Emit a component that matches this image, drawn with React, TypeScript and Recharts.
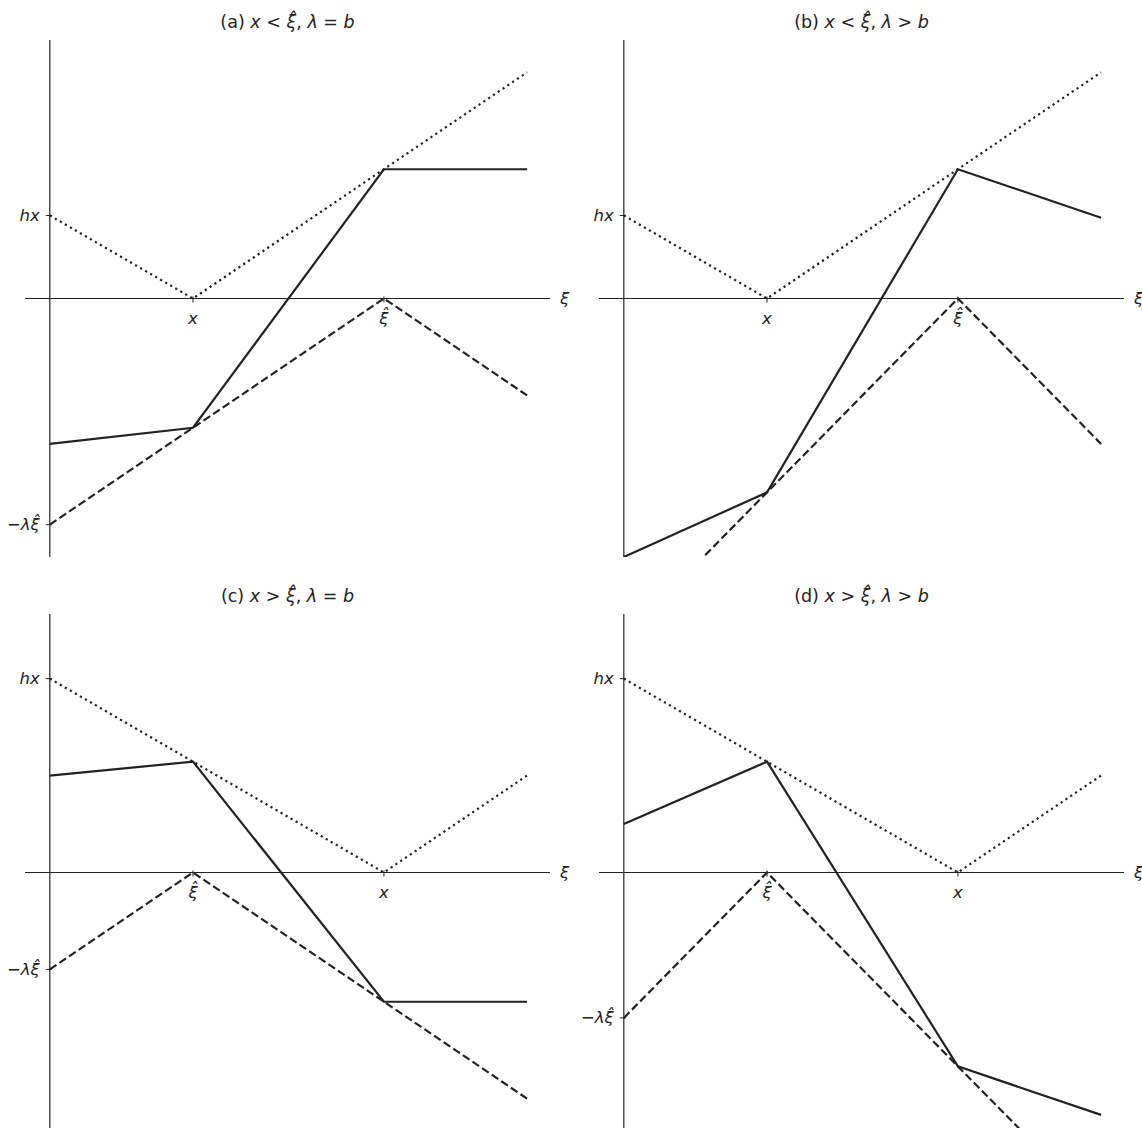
import React from "react";
import { LineChart, Line, XAxis, YAxis, ReferenceLine, ReferenceDot } from "recharts";

const XI = [0, 3, 7, 10];

// (a) x < xi_hat, lambda = b
const dottedA = [2.57, 0, 4, 7];
const dashedA = [-7, -4, 0, -3];
const solidA = [-4.5, -4, 4, 4];

// (b) x < xi_hat, lambda > b
const dottedB = [2.57, 0, 4, 7];
const dashedB = [-10.5, -6, 0, -4.5];
const solidB = [-8, -6, 4, 2.5];

// (c) x > xi_hat, lambda = b
const dottedC = [6, 3.43, 0, 3];
const dashedC = [-3, 0, -4, -7];
const solidC = [3, 3.43, -4, -4];

// (d) x > xi_hat, lambda > b
const dottedD = [6, 3.43, 0, 3];
const dashedD = [-4.5, 0, -6, -10.5];
const solidD = [1.5, 3.43, -6, -7.5];

const XI_HAT = "ξ\u0302";

const FONT = "'DejaVu Sans', sans-serif";
const INK = "#222";
const LABEL_SIZE = 16.5;

const PLOT_W = 525;
const PLOT_H = 517;
const MARGIN = { top: 40, right: 40, bottom: 30, left: 25 };

interface Tick {
  value: number;
  label: React.ReactNode;
}

interface PanelProps {
  left: number;
  top: number;
  tag: string;
  rel: string;
  lam: string;
  dotted: number[];
  dashed: number[];
  solid: number[];
  xTicks: Tick[];
  yTicks: Tick[];
}

const I = ({ children }: { children: React.ReactNode }) => (
  <tspan fontStyle="italic">{children}</tspan>
);

function Panel({ left, top, tag, rel, lam, dotted, dashed, solid, xTicks, yTicks }: PanelProps) {
  const data = XI.map((xi, i) => ({
    xi,
    dotted: dotted[i],
    dashed: dashed[i],
    solid: solid[i],
  }));

  return (
    <div style={{ position: "absolute", left, top }}>
      <div
        style={{
          position: "absolute",
          left: MARGIN.left,
          width: PLOT_W,
          top: 11,
          textAlign: "center",
          fontFamily: FONT,
          fontSize: 17.5,
          lineHeight: "22px",
          color: INK,
          whiteSpace: "pre",
        }}
      >
        {`(${tag}) `}
        <i>x</i>
        {` ${rel} `}
        <i>{XI_HAT}</i>
        {", "}
        <i>λ</i>
        {` ${lam} `}
        <i>b</i>
      </div>
      <LineChart
        width={PLOT_W + MARGIN.left + MARGIN.right}
        height={PLOT_H + MARGIN.top + MARGIN.bottom}
        data={data}
        margin={MARGIN}
      >
        <XAxis type="number" dataKey="xi" domain={[-0.52, 10.48]} hide allowDataOverflow />
        <YAxis type="number" domain={[-8, 8]} hide allowDataOverflow />
        <ReferenceLine y={0} stroke={INK} strokeWidth={1.2} />
        <ReferenceLine x={0} stroke={INK} strokeWidth={1.2} />
        {xTicks.map((t) => (
          <ReferenceDot
            key={"x" + t.value}
            x={t.value}
            y={0}
            ifOverflow="visible"
            shape={(p: any) => (
              <g>
                <line x1={p.cx} y1={p.cy - 2} x2={p.cx} y2={p.cy + 4} stroke={INK} strokeWidth={1} />
                <text
                  x={p.cx}
                  y={p.cy + 25}
                  textAnchor="middle"
                  fontFamily={FONT}
                  fontSize={LABEL_SIZE}
                  fontStyle="italic"
                  fill={INK}
                >
                  {t.label}
                </text>
              </g>
            )}
          />
        ))}
        {yTicks.map((t) => (
          <ReferenceDot
            key={"y" + t.value}
            x={0}
            y={t.value}
            ifOverflow="visible"
            shape={(p: any) => (
              <g>
                <line x1={p.cx - 4} y1={p.cy} x2={p.cx + 2} y2={p.cy} stroke={INK} strokeWidth={1} />
                <text
                  x={p.cx - 10}
                  y={p.cy + 5.5}
                  textAnchor="end"
                  fontFamily={FONT}
                  fontSize={LABEL_SIZE}
                  fill={INK}
                >
                  {t.label}
                </text>
              </g>
            )}
          />
        ))}
        <ReferenceDot
          x={10.48}
          y={0}
          ifOverflow="visible"
          shape={(p: any) => (
            <text
              x={p.cx + 10}
              y={p.cy + 5.5}
              fontFamily={FONT}
              fontSize={LABEL_SIZE}
              fontStyle="italic"
              fill={INK}
            >
              ξ
            </text>
          )}
        />
        <Line
          type="linear"
          dataKey="dotted"
          stroke={INK}
          strokeWidth={2.2}
          strokeDasharray="2.2 3.6"
          dot={false}
          isAnimationActive={false}
        />
        <Line
          type="linear"
          dataKey="dashed"
          stroke={INK}
          strokeWidth={2.2}
          strokeDasharray="8 3.6"
          dot={false}
          isAnimationActive={false}
        />
        <Line
          type="linear"
          dataKey="solid"
          stroke={INK}
          strokeWidth={2.2}
          dot={false}
          isAnimationActive={false}
        />
      </LineChart>
    </div>
  );
}

const hxLabel = (
  <>
    <I>hx</I>
  </>
);
const lamLabel = (
  <>
    <tspan>−</tspan>
    <I>λ{XI_HAT}</I>
  </>
);

export default function App() {
  return (
    <div
      style={{
        position: "absolute",
        left: 0,
        top: 0,
        width: 1142,
        height: 1128,
        overflow: "hidden",
        background: "#fff",
      }}
    >
      <Panel
        left={0}
        top={0}
        tag="a"
        rel="<"
        lam="="
        dotted={dottedA}
        dashed={dashedA}
        solid={solidA}
        xTicks={[
          { value: 3, label: "x" },
          { value: 7, label: XI_HAT },
        ]}
        yTicks={[
          { value: dottedA[0], label: hxLabel },
          { value: dashedA[0], label: lamLabel },
        ]}
      />
      <Panel
        left={574}
        top={0}
        tag="b"
        rel="<"
        lam=">"
        dotted={dottedB}
        dashed={dashedB}
        solid={solidB}
        xTicks={[
          { value: 3, label: "x" },
          { value: 7, label: XI_HAT },
        ]}
        yTicks={[{ value: dottedB[0], label: hxLabel }]}
      />
      <Panel
        left={0}
        top={574}
        tag="c"
        rel=">"
        lam="="
        dotted={dottedC}
        dashed={dashedC}
        solid={solidC}
        xTicks={[
          { value: 3, label: XI_HAT },
          { value: 7, label: "x" },
        ]}
        yTicks={[
          { value: dottedC[0], label: hxLabel },
          { value: dashedC[0], label: lamLabel },
        ]}
      />
      <Panel
        left={574}
        top={574}
        tag="d"
        rel=">"
        lam=">"
        dotted={dottedD}
        dashed={dashedD}
        solid={solidD}
        xTicks={[
          { value: 3, label: XI_HAT },
          { value: 7, label: "x" },
        ]}
        yTicks={[
          { value: dottedD[0], label: hxLabel },
          { value: dashedD[0], label: lamLabel },
        ]}
      />
    </div>
  );
}
